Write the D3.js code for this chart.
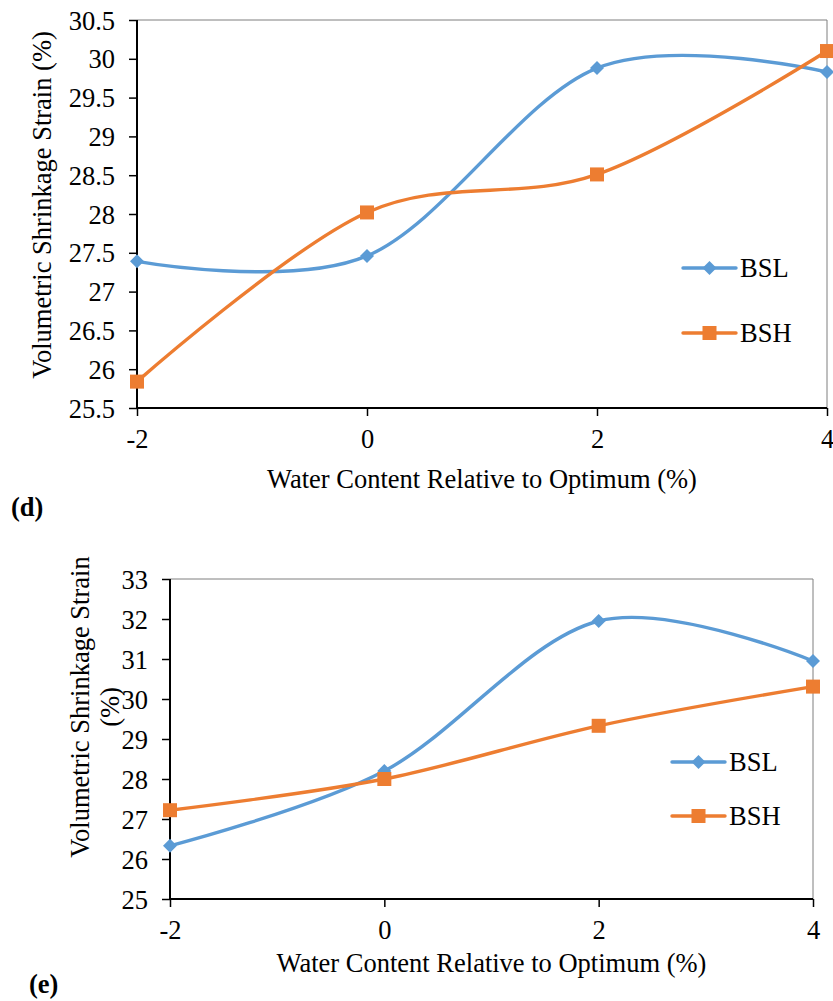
<!DOCTYPE html>
<html>
<head>
<meta charset="utf-8">
<script src="https://cdn.jsdelivr.net/npm/d3@7/dist/d3.min.js"></script>
<style>
  html, body { margin: 0; padding: 0; background: #fff; }
  svg { display: block; font-family: "Liberation Serif", "Times New Roman", serif; }
</style>
</head>
<body>
<svg id="chart" width="833" height="1001"></svg>
<script>
// ---- Data ----
const xValues = [-2, 0, 2, 4];
const xTicks = [-2, 0, 2, 4];
const seriesNames = ["BSL", "BSH"];

// Panel (d)
const dBSL = [27.39, 27.46, 29.88, 29.83];
const dBSH = [25.84, 28.02, 28.51, 30.10];
const dYTicks = [25.5, 26, 26.5, 27, 27.5, 28, 28.5, 29, 29.5, 30, 30.5];

// Panel (e)
const eBSL = [26.33, 28.20, 31.95, 30.95];
const eBSH = [27.22, 28.00, 29.33, 30.31];
const eYTicks = [25, 26, 27, 28, 29, 30, 31, 32, 33];

const colors = { BSL: "#5B9BD5", BSH: "#ED7D31" };
const xTitle = "Water Content Relative to Optimum (%)";
const FS = 26.5;
const FF = "'Liberation Serif', 'Times New Roman', serif";

const svg = d3.select("#chart");

function drawPanel(cfg) {
  const g = svg.append("g");
  const x = d3.scaleLinear().domain([-2, 4]).range([cfg.left, cfg.right]);
  const y = d3.scaleLinear().domain([cfg.yTicks[0], cfg.yTicks[cfg.yTicks.length - 1]]).range([cfg.bottom, cfg.top]);

  // plot area border (top/right gray)
  g.append("line").attr("x1", cfg.left).attr("x2", cfg.right).attr("y1", cfg.top).attr("y2", cfg.top)
    .attr("stroke", "#7f7f7f").attr("stroke-width", 1);
  g.append("line").attr("x1", cfg.right).attr("x2", cfg.right).attr("y1", cfg.top).attr("y2", cfg.bottom)
    .attr("stroke", "#7f7f7f").attr("stroke-width", 1);

  // Y axis
  const yAxis = d3.axisLeft(y).tickValues(cfg.yTicks).tickSize(8).tickPadding(14)
    .tickFormat(d => String(d));
  const ya = g.append("g").attr("transform", `translate(${cfg.left},0)`).call(yAxis);
  ya.attr("font-family", FF);
  ya.select(".domain").attr("stroke", "#000").attr("stroke-width", 2)
    .attr("d", `M0,${cfg.top}V${cfg.bottom}`);
  ya.selectAll(".tick line").attr("stroke", "#000").attr("stroke-width", 1.5);
  ya.selectAll(".tick text").attr("font-size", FS).attr("fill", "#000").attr("dy", "0.34em");

  // X axis
  const xAxis = d3.axisBottom(x).tickValues(cfg.xTicks).tickSize(8).tickPadding(13)
    .tickFormat(d => String(d));
  const xa = g.append("g").attr("transform", `translate(0,${cfg.bottom})`).call(xAxis);
  xa.attr("font-family", FF);
  xa.select(".domain").attr("stroke", "#000").attr("stroke-width", 2)
    .attr("d", `M${cfg.left},0H${cfg.right}`);
  xa.selectAll(".tick line").attr("stroke", "#000").attr("stroke-width", 1.5);
  xa.selectAll(".tick text").attr("font-size", FS).attr("fill", "#000").attr("dy", "0.71em");

  // Series
  const line = d3.line().x(d => x(d[0])).y(d => y(d[1])).curve(d3.curveCardinal.tension(0));
  cfg.series.forEach(s => {
    const pts = xValues.map((xv, i) => [xv, s.values[i]]);
    g.append("path").attr("d", line(pts)).attr("fill", "none")
      .attr("stroke", colors[s.name]).attr("stroke-width", 3.4).attr("stroke-linecap", "round");
    pts.forEach(p => drawMarker(g, s.name, x(p[0]), y(p[1])));
  });

  // Legend
  cfg.series.forEach((s, i) => {
    const ly = cfg.legendY[i];
    g.append("line").attr("x1", cfg.legendX).attr("x2", cfg.legendX + 53).attr("y1", ly).attr("y2", ly)
      .attr("stroke", colors[s.name]).attr("stroke-width", 3.4).attr("stroke-linecap", "round");
    drawMarker(g, s.name, cfg.legendX + 26.5, ly);
    g.append("text").attr("x", cfg.legendX + 57).attr("y", ly).attr("dy", "0.35em")
      .attr("font-size", FS).attr("fill", "#000").text(s.name);
  });

  // Y title
  cfg.yTitle.forEach(t => {
    g.append("text").attr("transform", `translate(${t.x},${t.y}) rotate(-90)`)
      .attr("text-anchor", "middle").attr("dy", "0.35em")
      .attr("font-size", FS).attr("fill", "#000").text(t.text);
  });

  // X title
  g.append("text").attr("x", (cfg.left + cfg.right) / 2).attr("y", cfg.xTitleY).attr("dy", "0.35em")
    .attr("text-anchor", "middle").attr("font-size", FS).attr("fill", "#000").text(xTitle);

  // Panel label
  g.append("text").attr("x", cfg.labelX).attr("y", cfg.labelY).attr("dy", "0.35em")
    .attr("font-size", FS).attr("font-weight", "bold").attr("fill", "#000").text(cfg.label);
}

function drawMarker(g, name, cx, cy) {
  if (name === "BSL") {
    const r = 7;
    g.append("path").attr("d", `M${cx},${cy - r}L${cx + r},${cy}L${cx},${cy + r}L${cx - r},${cy}Z`)
      .attr("fill", colors.BSL);
  } else {
    const s = 14;
    g.append("rect").attr("x", cx - s / 2).attr("y", cy - s / 2).attr("width", s).attr("height", s)
      .attr("fill", colors.BSH);
  }
}

drawPanel({
  left: 137, right: 827, top: 20, bottom: 408,
  xTicks: xTicks, yTicks: dYTicks,
  series: [{ name: seriesNames[0], values: dBSL }, { name: seriesNames[1], values: dBSH }],
  legendX: 683, legendY: [268, 333],
  yTitle: [{ text: "Volumetric Shrinkage Strain (%)", x: 42, y: 205 }],
  xTitleY: 479, label: "(d)", labelX: 11, labelY: 507
});

drawPanel({
  left: 170, right: 813, top: 579, bottom: 899,
  xTicks: xTicks, yTicks: eYTicks,
  series: [{ name: seriesNames[0], values: eBSL }, { name: seriesNames[1], values: eBSH }],
  legendX: 672, legendY: [762, 816],
  yTitle: [{ text: "Volumetric Shrinkage Strain", x: 80, y: 707 }, { text: "(%)", x: 110, y: 707 }],
  xTitleY: 963, label: "(e)", labelX: 29, labelY: 984
});
</script>
</body>
</html>
